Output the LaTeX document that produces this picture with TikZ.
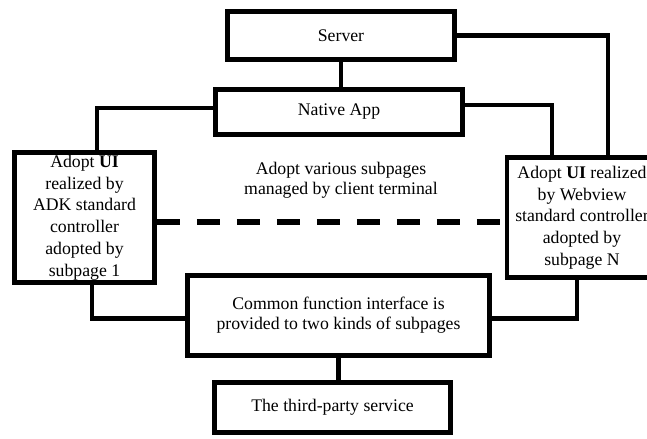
\documentclass[tikz,border=0pt]{standalone}
\usepackage{fontspec}
\setmainfont{Liberation Serif}
\begin{document}
\begin{tikzpicture}[x=0.75pt,y=-0.75pt,
	box/.style={draw,line width=3.6pt,fill=white,align=center,inner sep=2pt,
		font=\fontsize{13.3}{16.3}\selectfont},
	link/.style={line width=3.6pt},
	dashlink/.style={line width=4.5pt,dash pattern=on 17pt off 13pt}]
	\useasboundingbox (0,0) rectangle (647,439);
	\clip (0,0) rectangle (647,439);
	\node[box,minimum width=170pt,minimum height=36pt] (server) at (341,35.5) {Server};
	\node[box,minimum width=185pt,minimum height=34pt] (native) at (339,112) {Native App};
	\node[box,minimum width=105pt,minimum height=94.5pt] (sub1) at (84.5,217.5)
		{Adopt \textbf{UI}\\realized by\\ADK standard\\controller\\adopted by\\subpage 1};
	\node[box,minimum width=112.5pt,minimum height=90pt] (subN) at (582,217.5)
		{Adopt \textbf{UI} realized\\by Webview\\standard controller\\adopted by\\subpage N};
	\node[box,minimum width=226.5pt,minimum height=60pt,
		font=\fontsize{13.3}{15}\selectfont] (common) at (338.5,315.5)
		{Common function interface is\\provided to two kinds of subpages};
	\node[box,minimum width=177pt,minimum height=37.5pt] (third) at (332.5,407.5) {The third-party service};
	\node[align=center,font=\fontsize{13.3}{15}\selectfont] (client) at (341,180)
		{Adopt various subpages\\managed by client terminal};
	% connectors
	\draw[link] (server.south) -- (server.south |- native.north);
	\draw[link] ([yshift=3pt]native.west) -| ([xshift=9.4pt]sub1.north);
	\draw[link] ([yshift=5.2pt]native.east) -| ([xshift=-22.5pt]subN.north);
	\draw[link] (server.east) -| ([xshift=19.5pt]subN.north);
	\draw[link] ([xshift=5.6pt]sub1.south) |- ([yshift=-2pt]common.west);
	\draw[link] ([xshift=-3.8pt]subN.south) |- ([yshift=-2pt]common.east);
	\draw[link] (common.south) -- (common.south |- third.north);
	\draw[dashlink] ([yshift=-3.4pt]sub1.east) -- ([yshift=-3.4pt]sub1.east -| subN.west);
\end{tikzpicture}
\end{document}
